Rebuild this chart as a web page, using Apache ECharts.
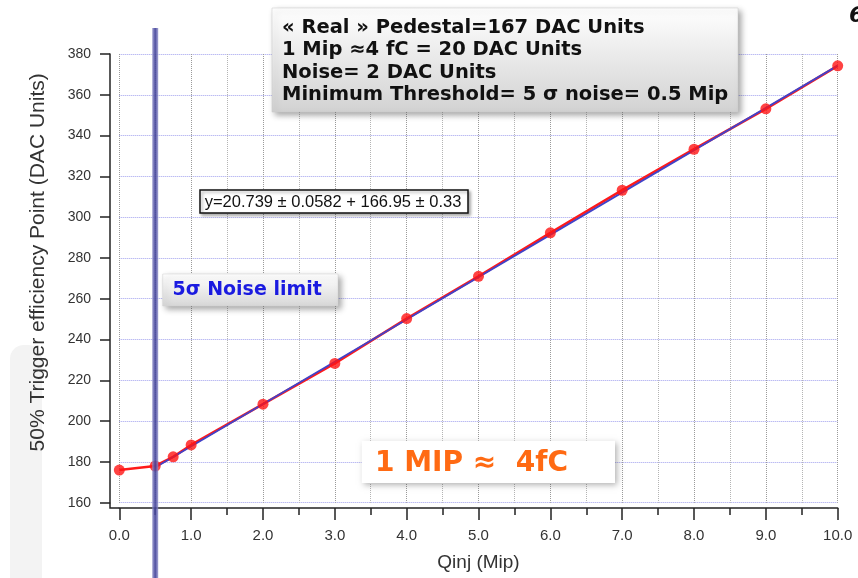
<!DOCTYPE html>
<html><head><meta charset="utf-8">
<script src="https://cdn.jsdelivr.net/npm/echarts@6/dist/echarts.min.js"></script>
<style>html,body{margin:0;padding:0;background:#fff}#c{width:858px;height:578px}</style>
</head><body><div id="c"></div>
<script>
// ---- data ----
const qinj = [0, 0.5, 0.75, 1, 2, 3, 4, 5, 6, 7, 8, 9, 10];
const threshold = [176, 178, 182.5, 188.3, 208.3, 228.3, 250.3, 271, 292.3, 313.2, 333.3, 353.1, 374.2];
const fitX = [0.5, 10];
const fitY = [177.3, 374.3];
const noiseLimit = 0.5;
const infoLines = ['\u00AB Real \u00BB Pedestal=167 DAC Units', '1 Mip \u22484 fC = 20 DAC Units', 'Noise= 2 DAC Units', 'Minimum Threshold= 5 \u03C3 noise= 0.5 Mip'];
const fitLabel = 'y=20.739 \u00B1 0.0582 + 166.95 \u00B1 0.33';
const noiseLabel = '5\u03C3 Noise limit';
const mipLabel = '1 MIP \u2248  4fC';
const xName = 'Qinj (Mip)';
const yName = '50% Trigger efficiency Point (DAC Units)';

const chart = echarts.init(document.getElementById('c'), null, {renderer: 'canvas'});
const FONT = '"Liberation Sans", Arial, sans-serif';
const BOLD = '"DejaVu Sans", Verdana, sans-serif';
const xOff = 5.3, yOff = 9.3;

chart.setOption({
  animation: false,
  backgroundColor: '#fff',
  grid: {left: 119.3, right: 20.3, top: 54, bottom: 75.3, containLabel: false, outerBoundsMode: 'none'},
  xAxis: {
    type: 'value', min: 0, max: 10, interval: 1, offset: xOff,
    name: xName, nameLocation: 'middle', nameGap: 45,
    nameTextStyle: {fontFamily: FONT, fontSize: 19, color: '#333'},
    axisLine: {show: true, onZero: false, lineStyle: {color: '#222', width: 1.5}},
    axisTick: {show: true, inside: false, length: 12, lineStyle: {color: '#222', width: 1.5}},
    minorTick: {show: true, splitNumber: 2, length: 7, lineStyle: {color: '#222', width: 1.5}},
    axisLabel: {fontFamily: FONT, fontSize: 15, color: '#333', margin: 20, formatter: v => v.toFixed(1)},
    splitLine: {show: true, lineStyle: {color: '#9a9a9a', type: 'dotted', width: 1}},
    minorSplitLine: {show: true, lineStyle: {color: '#b4b4b4', type: 'dotted', width: 1}}
  },
  yAxis: {
    type: 'value', min: 160, max: 380, interval: 20, offset: yOff,
    name: yName, nameLocation: 'middle', nameGap: 61,
    nameTextStyle: {fontFamily: FONT, fontSize: 21, color: '#333', padding: [0, 0, 0, 32]},
    axisLine: {show: true, onZero: false, lineStyle: {color: '#222', width: 1.5}},
    axisTick: {show: true, inside: false, length: 10, lineStyle: {color: '#222', width: 1.5}},
    axisLabel: {fontFamily: FONT, fontSize: 14, color: '#333', margin: 19},
    splitLine: {show: true, lineStyle: {color: '#a0a0ee', type: 'dotted', width: 1}}
  },
  series: [
    {type: 'line', data: qinj.map((x, i) => [x, threshold[i]]), showSymbol: false, symbol: 'none',
     lineStyle: {color: '#ff1a1a', width: 2.6}, z: 2, silent: true},
    {type: 'line', data: fitX.map((x, i) => [x, fitY[i]]), showSymbol: false, symbol: 'none',
     lineStyle: {color: '#4242c8', width: 1.8}, z: 3, silent: true},
    {type: 'scatter', data: qinj.map((x, i) => [x, threshold[i]]), symbol: 'circle', symbolSize: 11,
     itemStyle: {color: '#ff1414'}, z: 4, silent: true}
  ]
});

const px = v => chart.convertToPixel({xAxisIndex: 0}, v);
const py = v => chart.convertToPixel({yAxisIndex: 0}, v);
const x0 = px(0), y0 = py(160);
const nx = px(noiseLimit);
const shadow = {shadowBlur: 6, shadowOffsetX: 3, shadowOffsetY: 3, shadowColor: 'rgba(0,0,0,0.35)'};
const grad = (a, b) => ({type: 'linear', x: 0, y: 0, x2: 0, y2: 1, colorStops: [{offset: 0, color: a}, {offset: 1, color: b}]});

chart.setOption({
  graphic: [
    {type: 'rect', z: -10, silent: true, shape: {x: 10, y: 345, width: 32, height: 240, r: [14, 14, 0, 0]}, style: {fill: '#f3f3f3'}},
    {type: 'polyline', z: 5, silent: true, shape: {points: [[x0 - yOff, y0], [x0 - yOff, y0 + xOff], [x0, y0 + xOff]]}, style: {stroke: '#222', lineWidth: 1.5, fill: null}},
    {type: 'rect', z: 20, silent: true, shape: {x: nx - 3, y: 28, width: 6, height: 560},
     style: {fill: {type: 'linear', x: 0, y: 0, x2: 1, y2: 0, colorStops: [{offset: 0, color: 'rgba(140,140,200,0.8)'}, {offset: 0.5, color: 'rgba(60,60,150,0.9)'}, {offset: 1, color: 'rgba(140,140,200,0.8)'}]}}},
    {type: 'rect', z: 30, silent: true, shape: {x: 272, y: 8, width: 466, height: 104}, style: Object.assign({fill: grad('#ffffff', '#d2d2d2'), stroke: '#c8c8c8', lineWidth: 0.5}, shadow)},
    {type: 'text', z: 31, silent: true, style: {text: infoLines.join('\n'), x: 282, y: 16.5, font: 'bold 19.5px ' + BOLD, fill: '#111', lineHeight: 22.5, verticalAlign: 'top', align: 'left'}},
    {type: 'rect', z: 30, silent: true, shape: {x: 200, y: 190, width: 268, height: 23}, style: {fill: '#fff', stroke: '#111', lineWidth: 1.5, shadowBlur: 3, shadowOffsetX: 2, shadowOffsetY: 2, shadowColor: 'rgba(0,0,0,0.3)'}},
    {type: 'text', z: 31, silent: true, style: {text: fitLabel, x: 333, y: 202, font: '16.5px ' + FONT, fill: '#111', align: 'center', verticalAlign: 'middle'}},
    {type: 'rect', z: 30, silent: true, shape: {x: 162.7, y: 274, width: 175.3, height: 32}, style: Object.assign({fill: grad('#ffffff', '#d8d8d8'), stroke: '#d0d0d0', lineWidth: 0.5}, shadow)},
    {type: 'text', z: 31, silent: true, style: {text: noiseLabel, x: 172.5, y: 290, font: 'bold 19px ' + BOLD, fill: '#1a1ae0', align: 'left', verticalAlign: 'middle'}},
    {type: 'rect', z: 30, silent: true, shape: {x: 361.7, y: 440.7, width: 253.3, height: 42.3}, style: {fill: '#fff', shadowBlur: 6, shadowOffsetX: 2, shadowOffsetY: 2, shadowColor: 'rgba(0,0,0,0.3)'}},
    {type: 'text', z: 31, silent: true, style: {text: mipLabel, x: 375, y: 463.5, font: 'bold 28px ' + BOLD, fill: '#ff6a13', align: 'left', verticalAlign: 'middle'}},
    {type: 'text', z: 31, silent: true, style: {text: '6', x: 849, y: 5, font: 'italic bold 22px ' + BOLD, fill: '#111', align: 'left', verticalAlign: 'top'}}
  ]
});
</script></body></html>
